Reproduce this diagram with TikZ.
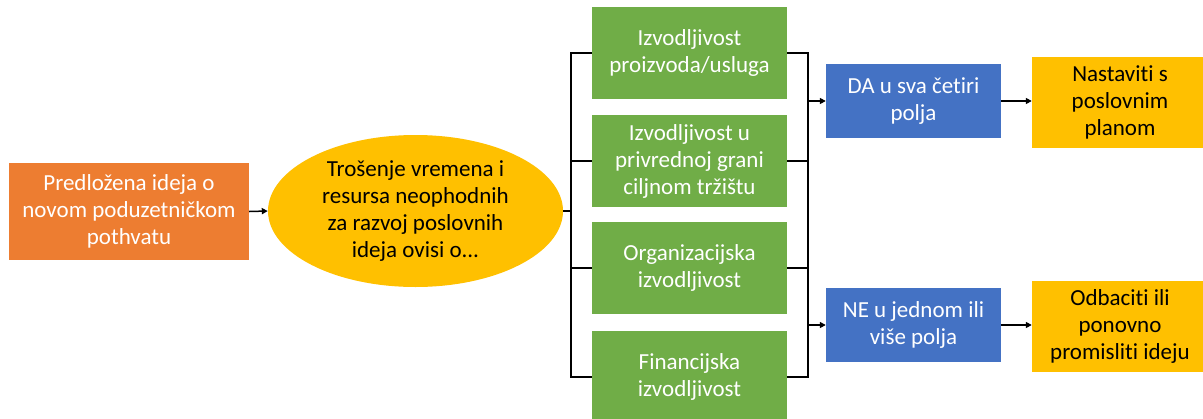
\documentclass[tikz,border=0pt]{standalone}
\usepackage{fontspec}
\setmainfont{Carlito}[Ligatures=NoCommon]
\usetikzlibrary{arrows.meta,shapes.geometric}
\definecolor{corange}{HTML}{ED7D31}
\definecolor{cyellow}{HTML}{FFC000}
\definecolor{cgreen}{HTML}{70AD47}
\definecolor{cblue}{HTML}{4472C4}
\begin{document}
\begin{tikzpicture}[x=1pt,y=-1pt,
  every node/.style={font=\fontsize{23}{27}\selectfont, align=center, inner sep=0pt},
  boxo/.style={fill=corange, text=white, minimum width=240pt, minimum height=97pt},
  boxe/.style={ellipse, fill=cyellow, text=black, minimum width=295pt, minimum height=152pt},
  boxg/.style={fill=cgreen, text=white, minimum width=195pt, minimum height=92pt},
  boxb/.style={fill=cblue, text=white, minimum width=175pt, minimum height=74pt},
  boxy/.style={fill=cyellow, text=black, minimum width=176pt, minimum height=91pt},
  bus/.style={line width=2pt, black},
  arr/.style={line width=1.5pt, black, -{Triangle[length=6pt,width=6pt]}}]
\useasboundingbox (0,0) rectangle (1203,418);
\fill[white] (0,0) rectangle (1203,418);
\node[boxo] (idea) at (129,211.5) {Predložena ideja o\\novom poduzetničkom\\pothvatu};
\node[boxe] (ell) at (415.5,211) {Trošenje vremena i\\resursa neophodnih\\za razvoj poslovnih\\ideja ovisi o...};
\node[boxg] (g1) at (689.5,53) {Izvodljivost\\proizvoda/usluga};
\node[boxg] (g2) at (689.5,161) {Izvodljivost u\\privrednoj grani\\ciljnom tržištu};
\node[boxg] (g3) at (689.5,268) {Organizacijska\\izvodljivost};
\node[boxg] (g4) at (689.5,377) {Financijska\\izvodljivost};
\node[boxb] (b1) at (913.5,101) {DA u sva četiri\\polja};
\node[boxb] (b2) at (913.5,325) {NE u jednom ili\\više polja};
\node[boxy] (y1) at (1120,102.5) {Nastaviti s\\poslovnim\\planom};
\node[boxy] (y2) at (1120,326) {Odbaciti ili\\ponovno\\promisliti ideju};
\coordinate (L) at (571,211);
\coordinate (R) at (808,211);
\draw[arr] (idea.east) -- (ell.west);
\draw[bus] (ell.east) -- (L);
\draw[bus] (g1.west) -| (L |- g4.west) -- (g4.west);
\draw[bus] (L |- g2.west) -- (g2.west);
\draw[bus] (L |- g3.west) -- (g3.west);
\draw[bus] (g1.east) -| (R |- g4.east) -- (g4.east);
\draw[bus] (g2.east) -- (R |- g2.east);
\draw[bus] (g3.east) -- (R |- g3.east);
\draw[arr] (R |- b1.west) -- (b1.west);
\draw[arr] (R |- b2.west) -- (b2.west);
\draw[arr] (b1.east) -- (b1.east -| y1.west);
\draw[arr] (b2.east) -- (b2.east -| y2.west);
\end{tikzpicture}
\end{document}
